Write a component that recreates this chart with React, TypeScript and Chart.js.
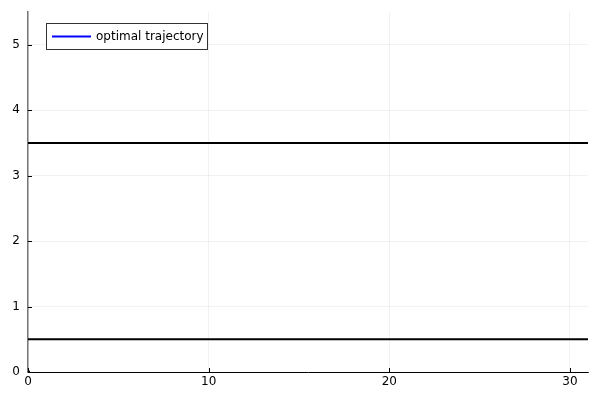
import React, { useEffect, useRef } from "react";
import { Chart, registerables } from "chart.js";

Chart.register(...registerables);

const xTicks = [0, 10, 20, 30];
const yTicks = [0, 1, 2, 3, 4, 5];
const upperBound = [
  { x: 0, y: 3.5 },
  { x: 31, y: 3.5 },
];
const lowerBound = [
  { x: 0, y: 0.5 },
  { x: 31, y: 0.5 },
];
const trajectory = [{ x: 0, y: 0 }];
const legendLabel = "optimal trajectory";
const FONT = "'DejaVu Sans', sans-serif";

const frame = {
  id: "frame",
  afterDraw(chart: any) {
    const { ctx, chartArea: a, scales } = chart;
    ctx.save();
    // inward ticks
    ctx.strokeStyle = "#000";
    ctx.lineWidth = 1;
    xTicks.forEach((v) => {
      const px = Math.round(scales.x.getPixelForValue(v)) + 0.5;
      ctx.beginPath();
      ctx.moveTo(px, a.bottom);
      ctx.lineTo(px, a.bottom - 4);
      ctx.stroke();
    });
    yTicks.forEach((v) => {
      const py = Math.round(scales.y.getPixelForValue(v)) + 0.5;
      ctx.beginPath();
      ctx.moveTo(a.left, py);
      ctx.lineTo(a.left + 4, py);
      ctx.stroke();
    });
    // legend
    const bx = 46.5, by = 23.5, bw = 161, bh = 26;
    ctx.fillStyle = "#fff";
    ctx.fillRect(bx, by, bw, bh);
    ctx.strokeStyle = "#333";
    ctx.lineWidth = 1;
    ctx.strokeRect(bx, by, bw, bh);
    ctx.strokeStyle = "#0000ff";
    ctx.lineWidth = 2;
    ctx.beginPath();
    ctx.moveTo(52, 36.5);
    ctx.lineTo(91, 36.5);
    ctx.stroke();
    ctx.fillStyle = "#000";
    ctx.font = `12px ${FONT}`;
    ctx.textBaseline = "middle";
    ctx.textAlign = "left";
    ctx.fillText(legendLabel, 96, 37);
    ctx.restore();
  },
};

export default function App() {
  const ref = useRef<HTMLCanvasElement>(null);
  useEffect(() => {
    document.body.style.margin = "0";
    const chart = new Chart(ref.current!, {
      type: "scatter",
      data: {
        datasets: [
          {
            label: legendLabel,
            data: trajectory,
            showLine: true,
            borderColor: "#0000ff",
            borderWidth: 2,
            pointRadius: 0,
          },
          {
            label: "upper",
            data: upperBound,
            showLine: true,
            borderColor: "#000",
            borderWidth: 2,
            pointRadius: 0,
          },
          {
            label: "lower",
            data: lowerBound,
            showLine: true,
            borderColor: "#000",
            borderWidth: 2,
            pointRadius: 0,
          },
          {
            label: "start",
            data: trajectory,
            pointStyle: "triangle",
            pointRadius: 3,
            backgroundColor: "#000",
            borderColor: "#000",
            clip: 0,
          } as any,
        ],
      },
      options: {
        animation: false,
        responsive: false,
        layout: { padding: { top: 12, right: 12, left: 0, bottom: 0 } },
        plugins: { legend: { display: false }, tooltip: { enabled: false } },
        scales: {
          x: {
            type: "linear",
            min: 0,
            max: 31,
            afterBuildTicks: (s: any) => {
              s.ticks = xTicks.map((v) => ({ value: v }));
            },
            afterFit: (s: any) => {
              s.height = 28;
              s.paddingLeft = 0;
              s.paddingRight = 0;
            },
            ticks: {
              color: "#000",
              font: { family: FONT, size: 12 },
              padding: 3,
              maxRotation: 0,
            },
            grid: {
              color: "rgba(0,0,0,0.1)",
              lineWidth: 0.5,
              drawTicks: false,
            },
            border: { color: "#000", width: 1 },
          },
          y: {
            type: "linear",
            min: 0,
            max: 5.5,
            afterBuildTicks: (s: any) => {
              s.ticks = yTicks.map((v) => ({ value: v }));
            },
            afterFit: (s: any) => {
              s.width = 28;
              s.paddingTop = 0;
              s.paddingBottom = 0;
            },
            ticks: {
              color: "#000",
              font: { family: FONT, size: 12 },
              padding: 8,
            },
            grid: {
              color: "rgba(0,0,0,0.1)",
              lineWidth: 0.5,
              drawTicks: false,
            },
            border: { color: "#777", width: 1.5 },
          },
        },
      },
      plugins: [frame],
    });
    return () => chart.destroy();
  }, []);
  return (
    <div style={{ width: 600, height: 400 }}>
      <canvas ref={ref} width={600} height={400} />
    </div>
  );
}
